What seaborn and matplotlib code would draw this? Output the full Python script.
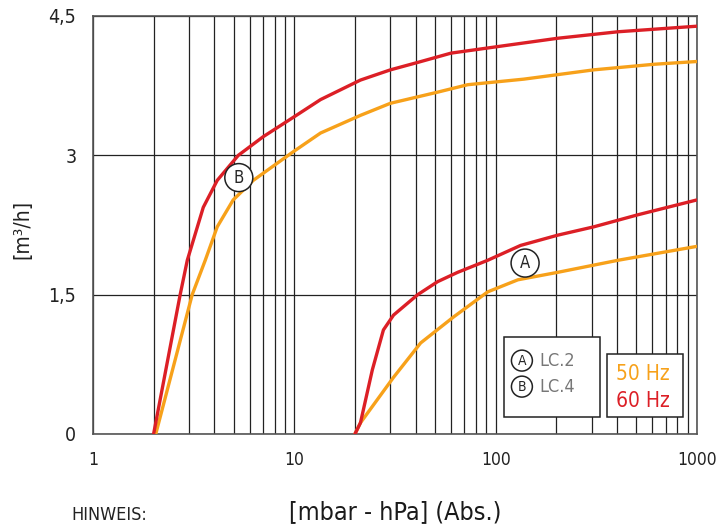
import matplotlib
matplotlib.use("Agg")
import matplotlib.pyplot as plt
import pandas as pd
import seaborn as sns
from matplotlib.patches import Rectangle

# pressure [mbar] vs. flow [m3/h]
b60_x = [2, 2.71, 2.94, 3.53, 4.14, 5.27, 7.0, 9.9, 13.5, 21.3, 30, 41, 60, 102, 203, 405, 1000]
b60_y = [0, 1.5, 1.87, 2.44, 2.73, 3.0, 3.2, 3.41, 3.6, 3.81, 3.92, 4.0, 4.1, 4.17, 4.26, 4.33, 4.39]
b50_x = [2.05, 3.11, 3.61, 4.14, 4.97, 6.25, 9.9, 13.5, 21.3, 30, 51.5, 72.6, 138, 307, 611, 1000]
b50_y = [0, 1.5, 1.87, 2.23, 2.52, 2.73, 3.04, 3.24, 3.43, 3.56, 3.68, 3.76, 3.82, 3.92, 3.98, 4.01]
a60_x = [20, 21.3, 24.4, 27.7, 31.1, 41, 51.5, 64.7, 91.3, 133, 203, 307, 509, 1000]
a60_y = [0, 0.12, 0.69, 1.12, 1.28, 1.5, 1.64, 1.74, 1.87, 2.03, 2.14, 2.23, 2.36, 2.52]
a50_x = [20, 21.3, 31.1, 42.4, 61.8, 91.3, 129, 203, 405, 1000]
a50_y = [0, 0.12, 0.61, 0.98, 1.26, 1.53, 1.66, 1.74, 1.87, 2.02]

y_ticks = [0, 1.5, 3, 4.5]
y_labels = ["0", "1,5", "3", "4,5"]
x_ticks = [1, 10, 100, 1000]
x_labels = ["1", "10", "100", "1000"]

orange = "#f7a11a"
red = "#dc1f26"

sns.set_style("white")
plt.rcParams["font.family"] = ["DejaVu Sans"]
plt.rcParams["font.stretch"] = "condensed"

fig = plt.figure(figsize=(7.17, 5.29), dpi=100)
ax = fig.add_axes([0.1297, 0.1796, 0.8424, 0.7902])

curves = [(b50_x, b50_y, orange), (b60_x, b60_y, red),
          (a50_x, a50_y, orange), (a60_x, a60_y, red)]
for xs, ys, col in curves:
    d = pd.DataFrame({"p": xs, "q": ys})
    sns.lineplot(data=d, x="p", y="q", ax=ax, color=col, lw=2.4,
                 sort=False, estimator=None, zorder=3)

ax.set_xscale("log")
ax.set_xlim(1, 1000)
ax.set_ylim(0, 4.5)

minor = [m * 10 ** k for k in range(3) for m in range(2, 10)]
ax.set_xticks(minor, minor=True)
ax.set_xticks(x_ticks)
ax.set_xticklabels(x_labels, fontsize=12.5)
ax.set_yticks(y_ticks)
ax.set_yticklabels(y_labels, fontsize=14)
ax.tick_params(axis="x", which="major", length=6, width=1, color="#333333", pad=6,
               labelcolor="#222222")
ax.tick_params(axis="x", which="minor", length=0)
ax.tick_params(axis="y", length=6, width=1, color="#333333", pad=6, labelcolor="#222222")
ax.grid(True, which="both", axis="x", color="#222222", lw=0.9)
ax.grid(True, which="major", axis="y", color="#222222", lw=0.9)
for s in ax.spines.values():
    s.set_color("#555555")
    s.set_linewidth(1.2)

ax.set_xlabel("")
ax.set_ylabel("")
fig.text(0.031, 0.567, "[m³/h]", fontsize=15, rotation=90, ha="center", va="center",
         color="#222222")
fig.text(0.551, 0.032, "[mbar - hPa] (Abs.)", fontsize=18,
         ha="center", va="center", color="#1a1a1a")
fig.text(0.10, 0.026, "HINWEIS:", fontsize=13, ha="left", va="center", color="#222222")

# circled curve markers
def circ(x, y, t, fs=12, pad=0.3):
    ax.text(x, y, t, fontsize=fs, ha="center", va="center", zorder=5,
            bbox=dict(boxstyle=f"circle,pad={pad}", fc="white", ec="#222222", lw=1.1))

circ(5.3, 2.76, "B")
circ(140, 1.84, "A")

# legend boxes
ax.add_patch(Rectangle((0.680, 0.040), 0.159, 0.191, transform=ax.transAxes,
                       fc="white", ec="#222222", lw=1.1, zorder=4))
ax.add_patch(Rectangle((0.851, 0.040), 0.126, 0.151, transform=ax.transAxes,
                       fc="white", ec="#222222", lw=1.1, zorder=4))
circ(135, 0.79, "A", fs=10, pad=0.25)
circ(135, 0.51, "B", fs=10, pad=0.25)
ax.text(165, 0.79, "LC.2", fontsize=13, color="#777777", va="center", zorder=6)
ax.text(165, 0.51, "LC.4", fontsize=13, color="#777777", va="center", zorder=6)
ax.text(540, 0.65, "50 Hz", fontsize=15, color=orange, va="center", ha="center", zorder=6)
ax.text(540, 0.36, "60 Hz", fontsize=15, color=red, va="center", ha="center", zorder=6)

fig.savefig("out.png", dpi=100)
